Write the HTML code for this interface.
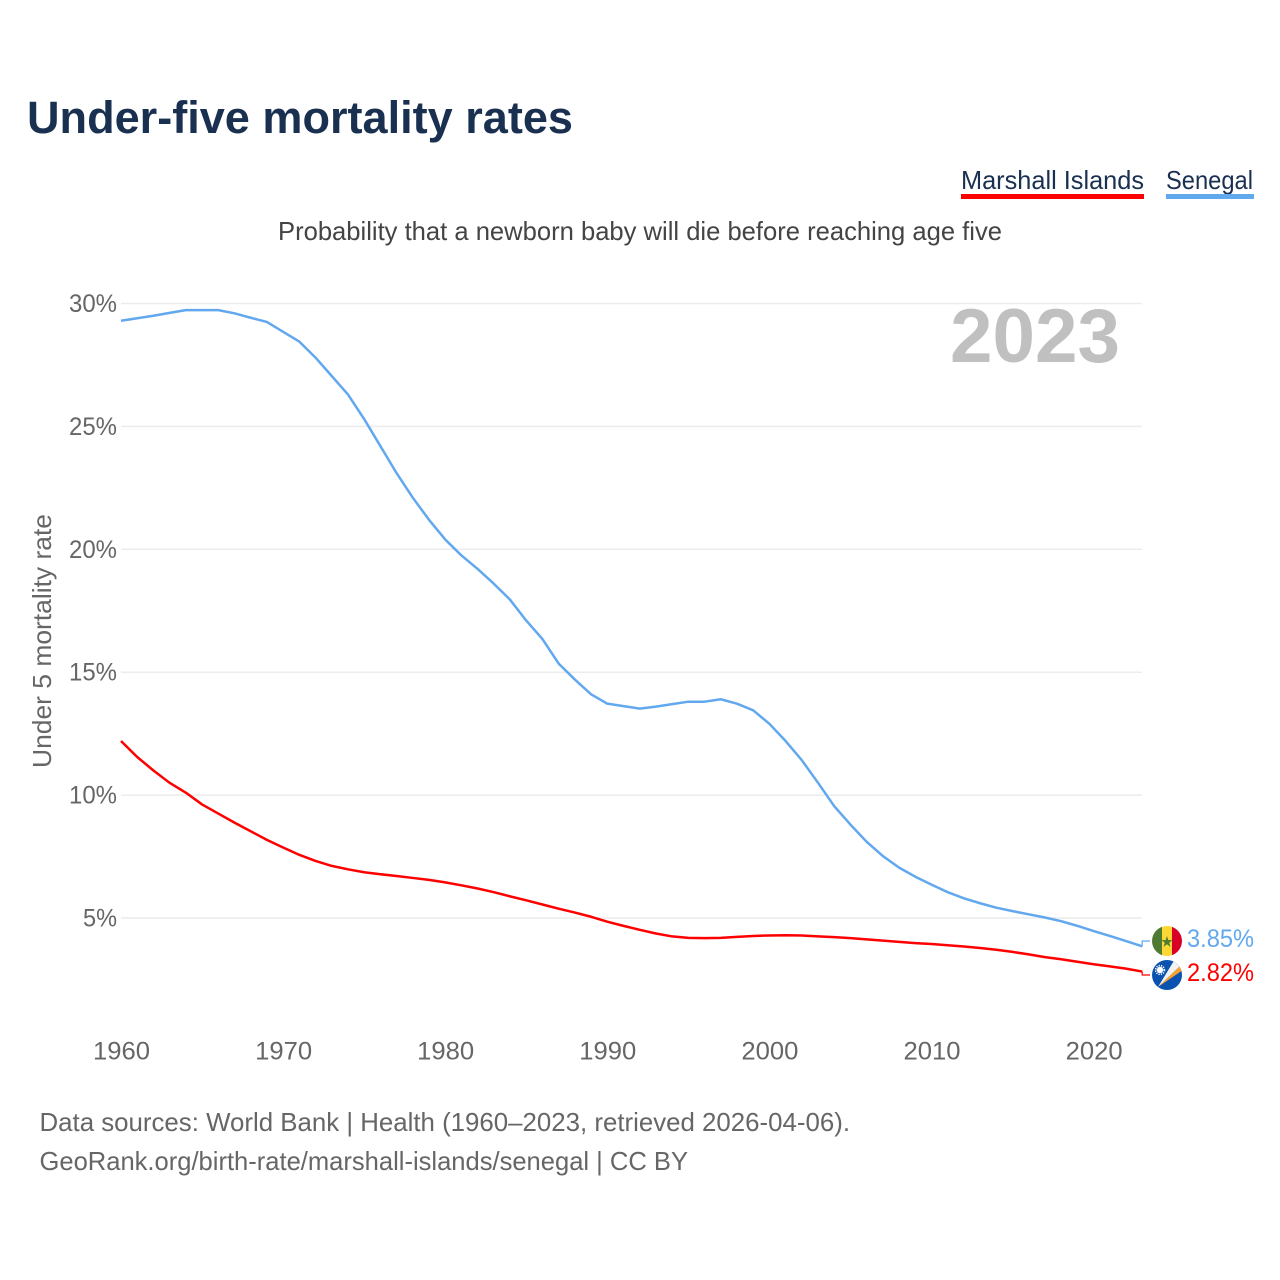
<!DOCTYPE html>
<html lang="en">
<head>
<meta charset="utf-8">
<title>Under-five mortality rates</title>
<style>
html,body{margin:0;padding:0;background:#fff;width:1280px;height:1280px;overflow:hidden}
svg{display:block;font-family:"Liberation Sans","DejaVu Sans",sans-serif}
</style>
</head>
<body>
<svg id="chart" width="1280" height="1280" viewBox="0 0 1280 1280">
  <defs>
    <clipPath id="clip-sn"><circle cx="1167" cy="941" r="15"/></clipPath>
    <clipPath id="clip-mh"><circle cx="1167" cy="975" r="15"/></clipPath>
  </defs>
  <text x="27" y="133" font-size="45" font-weight="700" fill="#1a3050" textLength="546" lengthAdjust="spacingAndGlyphs">Under-five mortality rates</text>

  <text x="961" y="189" font-size="26" fill="#1a3050" textLength="183" lengthAdjust="spacingAndGlyphs">Marshall Islands</text>
  <rect x="961" y="194" width="183" height="5" fill="#ff0000"/>
  <text x="1166" y="189" font-size="26" fill="#1a3050" textLength="87" lengthAdjust="spacingAndGlyphs">Senegal</text>
  <rect x="1166" y="194" width="88" height="5" fill="#62a8ee"/>

  <text x="278" y="240" font-size="26" fill="#444" textLength="724" lengthAdjust="spacingAndGlyphs">Probability that a newborn baby will die before reaching age five</text>

  <g id="grid"></g>
  <g id="yticks"></g>
  <g id="xticks"></g>

  <text x="0" y="0" transform="translate(51,768) rotate(-90)" font-size="26" fill="#666" textLength="254" lengthAdjust="spacingAndGlyphs">Under 5 mortality rate</text>

  <text x="950" y="362" font-size="76" font-weight="700" fill="#c0c0c0" textLength="170" lengthAdjust="spacingAndGlyphs">2023</text>

  <path id="line-senegal" fill="none" stroke="#62a8ee" stroke-width="2.5" stroke-linejoin="round"/>
  <path id="line-marshall" fill="none" stroke="#ff0000" stroke-width="2.5" stroke-linejoin="round"/>
  <path id="conn-senegal" fill="none" stroke="#62a8ee" stroke-width="1.2"/>
  <path id="conn-marshall" fill="none" stroke="#ff0000" stroke-width="1.2"/>

  <g clip-path="url(#clip-sn)">
    <rect x="1152" y="926" width="10" height="30" fill="#4f7a33"/>
    <rect x="1162" y="926" width="10" height="30" fill="#fdd835"/>
    <rect x="1172" y="926" width="10" height="30" fill="#d80027"/>
    <polygon transform="translate(0,1)" points="1167,935 1168.35,939.14 1172.7,939.15 1169.2,941.7 1170.5,945.85 1167,943.3 1163.5,945.85 1164.8,941.7 1161.3,939.15 1165.65,939.14" fill="#4f7a33"/>
  </g>
  <g clip-path="url(#clip-mh)">
    <rect x="1152" y="960" width="30" height="30" fill="#0a52b0"/>
    <polygon points="1158,987 1181,965 1183,970" fill="#f9a12e"/>
    <polygon points="1158,987 1175,959 1181,965" fill="#f2f2f2"/>
    <circle cx="1160" cy="970" r="3.2" fill="#fff"/>
    <circle cx="1160" cy="970" r="4.4" fill="none" stroke="#fff" stroke-width="1.6" stroke-dasharray="1.2 1.2"/>
  </g>

  <text x="1187" y="947" font-size="25" fill="#62a8ee" textLength="67" lengthAdjust="spacingAndGlyphs">3.85%</text>
  <text x="1187" y="981" font-size="25" fill="#ff0000" textLength="67" lengthAdjust="spacingAndGlyphs">2.82%</text>

  <text x="39.5" y="1131" font-size="26" fill="#666" textLength="810.5" lengthAdjust="spacingAndGlyphs">Data sources: World Bank | Health (1960–2023, retrieved 2026-04-06).</text>
  <text x="39.5" y="1170" font-size="26" fill="#666" textLength="648.5" lengthAdjust="spacingAndGlyphs">GeoRank.org/birth-rate/marshall-islands/senegal | CC BY</text>
</svg>
<script>
const startYear = 1960;
const senegalValues = [29.3,29.4,29.5,29.62,29.73,29.73,29.73,29.6,29.42,29.25,28.85,28.45,27.8,27.05,26.3,25.3,24.2,23.1,22.1,21.2,20.4,19.75,19.2,18.6,17.95,17.1,16.35,15.35,14.7,14.1,13.72,13.62,13.52,13.6,13.7,13.8,13.8,13.9,13.72,13.45,12.9,12.2,11.42,10.5,9.55,8.8,8.1,7.52,7.05,6.68,6.36,6.05,5.8,5.6,5.42,5.28,5.15,5.02,4.87,4.68,4.47,4.27,4.06,3.85];
const marshallValues = [12.2,11.55,11.0,10.5,10.1,9.62,9.25,8.88,8.53,8.18,7.87,7.57,7.32,7.12,6.98,6.86,6.78,6.71,6.63,6.55,6.45,6.33,6.2,6.05,5.88,5.72,5.55,5.38,5.22,5.05,4.85,4.68,4.52,4.37,4.25,4.19,4.18,4.19,4.23,4.27,4.29,4.3,4.29,4.25,4.22,4.18,4.13,4.08,4.03,3.98,3.94,3.89,3.84,3.78,3.71,3.62,3.52,3.41,3.32,3.22,3.12,3.03,2.94,2.82];
const yTickValues = [5,10,15,20,25,30];
const xTickYears = [1960,1970,1980,1990,2000,2010,2020];

const svgNS = 'http://www.w3.org/2000/svg';
function xScale(year){ return 121 + (year - 1960) * 16.21; }
function yScale(v){ return 918 - (v - 5) * 24.58; }
function linePath(vals){
  return vals.map(function(v,i){
    return (i ? 'L' : 'M') + xScale(startYear + i).toFixed(2) + ' ' + yScale(v).toFixed(2);
  }).join(' ');
}
function connector(v, flagY){
  const x = xScale(startYear + senegalValues.length - 1);
  const y = yScale(v);
  return 'M' + x.toFixed(1) + ' ' + y.toFixed(1) + ' L' + x.toFixed(1) + ' ' + flagY + ' L1150 ' + flagY;
}
document.getElementById('line-senegal').setAttribute('d', linePath(senegalValues));
document.getElementById('line-marshall').setAttribute('d', linePath(marshallValues));
document.getElementById('conn-senegal').setAttribute('d', connector(senegalValues[senegalValues.length - 1], 941));
document.getElementById('conn-marshall').setAttribute('d', connector(marshallValues[marshallValues.length - 1], 975));

const grid = document.getElementById('grid');
const yticks = document.getElementById('yticks');
const xticks = document.getElementById('xticks');
yTickValues.forEach(function(v){
  const l = document.createElementNS(svgNS, 'line');
  l.setAttribute('x1', 121);
  l.setAttribute('x2', 1142);
  l.setAttribute('y1', yScale(v));
  l.setAttribute('y2', yScale(v));
  l.setAttribute('stroke', '#ececec');
  l.setAttribute('stroke-width', '1.5');
  
  
  grid.appendChild(l);
  const t = document.createElementNS(svgNS, 'text');
  t.setAttribute('x', 117);
  t.setAttribute('y', yScale(v) + 8.5);
  t.setAttribute('text-anchor', 'end');
  t.setAttribute('font-size', '25');
  t.setAttribute('fill', '#666');
  t.setAttribute('textLength', v < 10 ? 34 : 48);
  t.setAttribute('lengthAdjust', 'spacingAndGlyphs');
  
  
  t.textContent = v + '%';
  yticks.appendChild(t);
});
xTickYears.forEach(function(y){
  const t = document.createElementNS(svgNS, 'text');
  t.setAttribute('x', xScale(y) + 0.5);
  t.setAttribute('y', 1059.5);
  t.setAttribute('text-anchor', 'middle');
  t.setAttribute('font-size', '25');
  t.setAttribute('fill', '#666');
  t.setAttribute('textLength', 57);
  t.setAttribute('lengthAdjust', 'spacingAndGlyphs');
  
  
  t.textContent = y;
  xticks.appendChild(t);
});
</script>
</body>
</html>
